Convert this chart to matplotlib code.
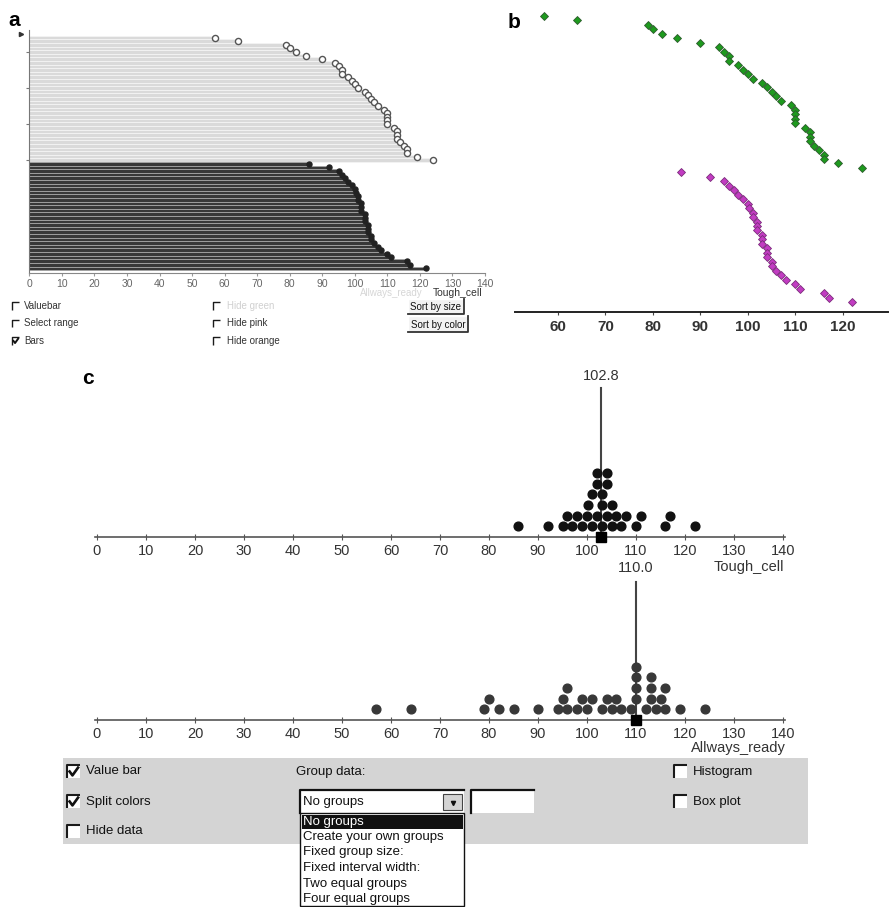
import numpy as np
import matplotlib
matplotlib.use("Agg")
import matplotlib.pyplot as plt
from matplotlib.patches import Rectangle

plt.rcParams['font.family'] = ['Liberation Sans', 'DejaVu Sans']
NARROW = ['Liberation Sans Narrow', 'Liberation Sans', 'DejaVu Sans']

W, H = 889, 907

# values
tough_cell = [86, 92, 95, 96, 97, 98, 99, 100, 100.3, 101, 101, 102, 102, 102,
              103, 103, 103, 104, 104, 104, 105, 105, 106, 107, 108, 110, 111,
              116, 117, 122]
allways_ready = [57, 64, 79, 80, 82, 85, 90, 94, 95, 96, 96, 98, 99, 100, 101,
                 103, 104, 105, 106, 107, 109, 110, 110, 110, 110, 112, 113,
                 113, 113, 114, 115, 116, 116, 119, 124]
value_bars = [102.8, 110.0]
names = ['Tough_cell', 'Allways_ready']
a_ticks = list(range(0, 141, 10))
b_ticks = list(range(60, 121, 10))
c_ticks = list(range(0, 141, 10))
a_checks_left = [('Valuebar', False), ('Select range', False), ('Bars', True)]
a_checks_mid = [('Hide green', False), ('Hide pink', False), ('Hide orange', False)]
a_buttons = ['Sort by size', 'Sort by color']
c_checks_left = [('Value bar', True), ('Split colors', True), ('Hide data', False)]
c_checks_right = [('Histogram', False), ('Box plot', False)]
group_options = ['No groups', 'Create your own groups', 'Fixed group size:',
                 'Fixed interval width:', 'Two equal groups', 'Four equal groups']


def px_axes(fig, x0, y0, x1, y1):
    ax = fig.add_axes([x0 / W, 1 - y1 / H, (x1 - x0) / W, (y1 - y0) / H])
    ax.set_facecolor('none')
    return ax


def stack_levels(values, width):
    # dot plot stacking: each dot goes to the lowest free level
    placed = []
    levels = []
    for v in sorted(values):
        lvl = 1
        while any(l == lvl and abs(v - x) < width for x, l in placed):
            lvl += 1
        placed.append((v, lvl))
        levels.append(lvl)
    return levels


def checkbox(ax, x, y, s, checked, lw=1.2):
    ax.add_patch(Rectangle((x, y), s, s, fc='white', ec='none', zorder=2))
    ax.plot([x, x, x + s], [y + s, y, y], color='#1a1a1a', lw=lw, zorder=3,
            solid_capstyle='butt')
    if checked:
        ax.plot([x + 0.2 * s, x + 0.42 * s, x + 0.85 * s],
                [y + 0.5 * s, y + 0.8 * s, y + 0.2 * s],
                color='#111', lw=lw + 0.4, zorder=3)


def button(ax, x0, y0, x1, y1, label, fs):
    ax.add_patch(Rectangle((x0, y0), x1 - x0, y1 - y0, fc='#f2f2f2', ec='none'))
    ax.plot([x0, x0, x1], [y1, y0, y0], color='white', lw=1)
    ax.plot([x0, x1, x1], [y1, y1, y0], color='#333', lw=1.3)
    ax.text((x0 + x1) / 2, (y0 + y1) / 2 + 0.5, label, ha='center', va='center',
            fontsize=fs, family=NARROW, color='#111')


fig = plt.figure(figsize=(W / 100, H / 100), dpi=100)
fig.patch.set_facecolor('white')

ui = fig.add_axes([0, 0, 1, 1])
ui.set_xlim(0, W)
ui.set_ylim(H, 0)
ui.axis('off')

# ---------------- panel a ----------------
aw = sorted(allways_ready)
tb = sorted(tough_cell)
rows_w = np.arange(len(aw))
rows_t = np.arange(len(tb)) + len(aw)

ax_a = px_axes(fig, 29.3, 30, 485, 273)
ax_a.barh(rows_w, aw, height=1.0, color='#dadada', edgecolor='#f4f4f4', lw=0.6)
ax_a.barh(rows_t, tb, height=1.0, color='#383838', edgecolor='#a5a5a5', lw=0.6)
ax_a.plot(aw, rows_w, 'o', ms=4.4, mfc='white', mec='#555', mew=1.0)
ax_a.plot(tb, rows_t, 'o', ms=3.6, mfc='#222', mec='#222')
ax_a.set_xlim(0, 140)
ax_a.set_ylim(65.3, -2.1)
for s in ['top', 'right']:
    ax_a.spines[s].set_visible(False)
ax_a.spines['left'].set_color('#777')
ax_a.spines['bottom'].set_color('#888')
ax_a.set_xticks(a_ticks)
ax_a.set_yticks([4, 14, 24, 34])
ax_a.set_yticklabels([])
ax_a.tick_params(axis='y', length=2, color='#777')
ax_a.tick_params(axis='x', length=2, color='#999', labelsize=7.5,
                 labelcolor='#666', pad=2)
for lab in ax_a.get_xticklabels():
    lab.set_family(NARROW)
ui.plot([21], [34.3], marker='>', ms=3, color='#333')

ui.text(423, 293, names[1], ha='right', va='center', fontsize=7,
        family=NARROW, color='#d6d6d6')
ui.text(433, 293, names[0], ha='left', va='center', fontsize=7.5,
        family=NARROW, color='#333')
for i, (lab, chk) in enumerate(a_checks_left):
    y = 306 + i * 17.5
    checkbox(ui, 12, y - 3.7, 7.2, chk, lw=1.0)
    ui.text(24, y, lab, ha='left', va='center', fontsize=7, family=NARROW,
            color='#333')
for i, (lab, chk) in enumerate(a_checks_mid):
    y = 306 + i * 17.5
    checkbox(ui, 213, y - 3.7, 7.2, chk, lw=1.0)
    ui.text(227, y, lab, ha='left', va='center', fontsize=7, family=NARROW,
            color='#d0d0d0' if i == 0 else '#333')
button(ui, 408, 299, 464, 314, a_buttons[0], 7)
button(ui, 408, 316, 468, 332, a_buttons[1], 7)
ui.text(8, 20, 'a', fontsize=15, fontweight='bold', va='center', ha='left')

# ---------------- panel b ----------------
ax_b = px_axes(fig, 515, 5, 888, 312)
ax_b.plot(aw, rows_w, 'D', ms=4.3, mfc='#1e9a1e', mec='#2d5a2d', mew=0.6)
ax_b.plot(tb, rows_t, 'D', ms=4.3, mfc='#c23cc2', mec='#7a2c7a', mew=0.6)
ax_b.set_xlim(50.95, 129.5)
ax_b.set_ylim(66.24, -2.46)
for s in ['top', 'right', 'left']:
    ax_b.spines[s].set_visible(False)
ax_b.spines['bottom'].set_linewidth(1.4)
ax_b.spines['bottom'].set_color('#222')
ax_b.set_yticks([])
ax_b.set_xticks(b_ticks)
ax_b.tick_params(axis='x', length=2, color='#444', labelsize=11, pad=4,
                 labelcolor='#333')
for lab in ax_b.get_xticklabels():
    lab.set_fontweight('bold')
ui.text(508, 22, 'b', fontsize=15, fontweight='bold', va='center', ha='left')

# ---------------- panel c ----------------
ui.text(82, 379, 'c', fontsize=15, fontweight='bold', va='center', ha='left')
lvl_px = 10.7
c_specs = [
    (tough_cell, value_bars[0], names[0], 370, 537, 388, 376, '#111111'),
    (allways_ready, value_bars[1], names[1], 570, 720, 582, 568, '#383838'),
]
for vals, vb, name, top, base, bar_top, lab_y, col in c_specs:
    ax = px_axes(fig, 95, top, 785, base)
    lv = stack_levels(vals, 1.9)
    ax.plot(sorted(vals), lv, 'o', ms=6.3, color=col, clip_on=False, zorder=3)
    ax.plot([vb, vb], [0, (base - bar_top) / lvl_px], color='#444', lw=1.5,
            zorder=2)
    ax.plot([vb], [0], 's', ms=6.5, color='black', clip_on=False, zorder=4)
    ax.text(vb, (base - lab_y) / lvl_px, f'{vb:.1f}', ha='center', va='center',
            fontsize=10.5, color='#333')
    ax.set_xlim(-0.4, 140.4)
    ax.set_ylim(0, (base - top) / lvl_px)
    for s in ['top', 'right', 'left']:
        ax.spines[s].set_visible(False)
    ax.spines['bottom'].set_color('#555')
    ax.spines['bottom'].set_linewidth(1.2)
    ax.set_yticks([])
    ax.set_xticks(c_ticks)
    ax.tick_params(axis='x', direction='inout', length=4, color='#555',
                   labelsize=10.5, labelcolor='#333', pad=3)

ui.text(784, 567, names[0], ha='right', va='center', fontsize=10.5, color='#333')
ui.text(786, 748, names[1], ha='right', va='center', fontsize=10.5, color='#333')

# control strip
ui.add_patch(Rectangle((63, 758), 745, 86, fc='#d4d4d4', ec='none', zorder=1))
for i, (lab, chk) in enumerate(c_checks_left):
    y = 771.5 + i * 30
    checkbox(ui, 67, y - 6.5, 13, chk, lw=1.5)
    ui.text(86, y, lab, ha='left', va='center', fontsize=9.5, family=NARROW,
            color='#111', zorder=3)
for i, (lab, chk) in enumerate(c_checks_right):
    y = 771.5 + i * 30
    checkbox(ui, 674, y - 6.5, 13, chk, lw=1.5)
    ui.text(693, y, lab, ha='left', va='center', fontsize=9.5, family=NARROW,
            color='#111', zorder=3)
ui.text(296, 771.5, 'Group data:', ha='left', va='center', fontsize=9.5,
        family=NARROW, color='#111', zorder=3)

# combo box + text field
ui.add_patch(Rectangle((300, 790), 164, 23, fc='white', ec='none', zorder=2))
ui.plot([300, 300, 464], [813, 790, 790], color='#111', lw=1.6, zorder=3)
ui.text(303, 802, group_options[0], ha='left', va='center', fontsize=9.5,
        family=NARROW, color='#111', zorder=3)
ui.add_patch(Rectangle((443, 794), 19, 16, fc='#d4d4d4', ec='#444', lw=0.8,
                       zorder=3))
ui.plot([452.5], [802.5], marker='v', ms=3, color='#111', zorder=4)
ui.add_patch(Rectangle((471, 790), 63, 23, fc='white', ec='none', zorder=2))
ui.plot([471, 471, 534], [813, 790, 790], color='#111', lw=1.6, zorder=3)

# opened drop-down list
ui.add_patch(Rectangle((300, 813), 164, 93, fc='white', ec='#111', lw=1,
                       zorder=4))
ui.add_patch(Rectangle((301.5, 815), 161, 13.5, fc='#111', ec='none', zorder=5))
for i, opt in enumerate(group_options):
    y = 821.5 + i * 15.5
    ui.text(303, y, opt, ha='left', va='center', fontsize=9.5, family=NARROW,
            color='white' if i == 0 else '#111', zorder=6)

fig.savefig('out.png', dpi=100)
